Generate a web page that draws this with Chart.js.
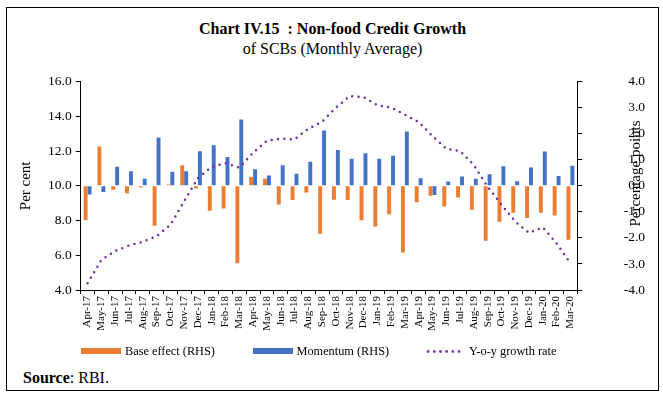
<!DOCTYPE html>
<html>
<head>
<meta charset="utf-8">
<script src="https://cdn.jsdelivr.net/npm/chart.js@4.4.1/dist/chart.umd.min.js"></script>
<style>
  body { margin: 0; background: #fff; }
  #frame { position: absolute; left: 6px; top: 7px; width: 653px; height: 384px; border: 1px solid #000; box-sizing: border-box; }
  #title { position: absolute; left: 0; top: 19px; width: 665px; text-align: center; font-family: 'Liberation Serif', serif; font-size: 16px; line-height: 20px; color: #000; }
  #source { position: absolute; left: 23px; top: 369px; font-family: 'Liberation Serif', serif; font-size: 16px; line-height: 18px; color: #000; }
  #grafico { position: absolute; left: 0; top: 0; }
  .sw { position: absolute; top: 348px; width: 40px; height: 6px; }
  .dots { position: absolute; top: 349.5px; width: 39px; height: 3px;
          background: radial-gradient(circle, #7030A0 1.15px, rgba(112,48,160,0) 1.5px) 0 0 / 6.2px 3px repeat-x; }
  .lt { position: absolute; top: 344px; font-family: 'Liberation Serif', serif; font-size: 12.3px; line-height: 14px; color: #000; white-space: nowrap; }
</style>
</head>
<body>
<div id="frame"></div>
<div id="title"><b>Chart IV.15&nbsp;&nbsp;: Non-food Credit Growth</b><br>of SCBs (Monthly Average)</div>
<canvas id="grafico" width="663" height="345"></canvas>
<div id="leyenda">
  <div class="sw" style="left:81px; background:#ED7D31"></div>
  <div class="lt" style="left:125px">Base effect (RHS)</div>
  <div class="sw" style="left:253px; background:#4472C4"></div>
  <div class="lt" style="left:296.5px">Momentum (RHS)</div>
  <div class="dots" style="left:425px"></div>
  <div class="lt" style="left:469px">Y-o-y growth rate</div>
</div>
<div id="source"><b>Source</b>: RBI.</div>
<script>
// meses
const meses = [
    "Apr-17", "May-17", "Jun-17", "Jul-17", "Aug-17", "Sep-17", "Oct-17", "Nov-17", "Dec-17",
    "Jan-18", "Feb-18", "Mar-18", "Apr-18", "May-18", "Jun-18", "Jul-18", "Aug-18", "Sep-18",
    "Oct-18", "Nov-18", "Dec-18", "Jan-19", "Feb-19", "Mar-19", "Apr-19", "May-19", "Jun-19",
    "Jul-19", "Aug-19", "Sep-19", "Oct-19", "Nov-19", "Dec-19", "Jan-20", "Feb-20", "Mar-20"
];

// eje derecho (puntos porcentuales)
const baseEffect = [
    -1.32, 1.51, -0.15, -0.28, -0.06, -1.53, 0.05, 0.79, -0.10,
    -0.96, -0.87, -2.97, 0.34, 0.27, -0.72, -0.54, -0.26, -1.84,
    -0.53, -0.54, -1.32, -1.56, -1.09, -2.56, -0.63, -0.38, -0.79,
    -0.45, -0.92, -2.11, -1.38, -1.03, -1.23, -1.03, -1.14, -2.07
];
const momentum = [
    -0.33, -0.24, 0.73, 0.56, 0.27, 1.86, 0.54, 0.56, 1.33,
    1.56, 1.11, 2.55, 0.64, 0.40, 0.79, 0.46, 0.93, 2.13,
    1.38, 1.04, 1.25, 1.04, 1.16, 2.09, 0.29, -0.35, 0.17,
    0.36, 0.27, 0.45, 0.75, 0.18, 0.70, 1.32, 0.38, 0.77
];

// eje izquierdo (por ciento)
const yoyGrowth = [
    4.39, 5.73, 6.25, 6.56, 6.77, 7.10, 7.75, 9.11, 10.45,
    11.09, 11.30, 11.05, 11.91, 12.60, 12.72, 12.68, 13.29, 13.70,
    14.50, 15.17, 15.12, 14.64, 14.52, 14.10, 13.68, 12.87, 12.14,
    12.00, 11.20, 9.95, 8.92, 7.94, 7.29, 7.61, 6.69, 5.54
];

const leftTicks = [4, 6, 8, 10, 12, 14, 16];
const rightTicks = [-4, -3, -2, -1, 0, 1, 2, 3, 4];

const leftTitle = "Per cent";
const rightTitle = "Percentage points";

const serif = "'Liberation Serif', serif";

// titulo del eje derecho, leido de abajo hacia arriba
const rightTitlePlugin = {
    id: "rightTitle",
    afterDraw(chart) {
        const ctx = chart.ctx;
        ctx.save();
        ctx.translate(636, 173.5);
        ctx.rotate(-Math.PI / 2);
        ctx.font = "15px " + serif;
        ctx.fillStyle = "#000";
        ctx.textAlign = "center";
        ctx.textBaseline = "middle";
        ctx.fillText(rightTitle, 0, 0);
        ctx.restore();
    }
};

const ctx = document.getElementById("grafico");

const chart = new Chart(ctx, {
    data: {
        labels: meses,
        datasets: [
            {
                type: "bar",
                label: "Base effect (RHS)",
                data: baseEffect,
                backgroundColor: "#ED7D31",
                yAxisID: "y1",
                categoryPercentage: 0.57,
                barPercentage: 1.0,
                order: 2
            },
            {
                type: "bar",
                label: "Momentum (RHS)",
                data: momentum,
                backgroundColor: "#4472C4",
                yAxisID: "y1",
                categoryPercentage: 0.57,
                barPercentage: 1.0,
                order: 2
            },
            {
                type: "line",
                label: "Y-o-y growth rate",
                data: yoyGrowth,
                borderColor: "#7030A0",
                borderWidth: 2.5,
                borderDash: [0, 6.4],
                borderCapStyle: "round",
                pointRadius: 0,
                tension: 0,
                fill: false,
                yAxisID: "y",
                order: 1
            }
        ]
    },
    options: {
        responsive: false,
        animation: false,
        layout: {
            padding: { left: 0, right: 18, top: 81.7, bottom: 0 }
        },
        plugins: {
            tooltip: { enabled: false },
            legend: { display: false }
        },
        scales: {
            x: {
                type: "category",
                offset: true,
                afterFit: s => { s.height = 55; },
                grid: {
                    display: true,
                    offset: true,
                    drawOnChartArea: false,
                    drawTicks: true,
                    tickLength: 4,
                    color: "#000"
                },
                border: { color: "#000", width: 1 },
                ticks: {
                    autoSkip: false,
                    maxRotation: 90,
                    minRotation: 90,
                    padding: 2,
                    color: "#000",
                    font: { family: serif, size: 11 }
                }
            },
            y: {
                position: "left",
                min: leftTicks[0],
                max: leftTicks[leftTicks.length - 1],
                afterFit: s => { s.width = 80.7; },
                afterBuildTicks: s => { s.ticks = leftTicks.map(v => ({ value: v })); },
                grid: {
                    drawOnChartArea: false,
                    drawTicks: true,
                    tickLength: 5,
                    color: "#000"
                },
                border: { color: "#000", width: 1 },
                ticks: {
                    padding: 4,
                    color: "#000",
                    font: { family: serif, size: 13.5 },
                    callback: v => Number(v).toFixed(1)
                },
                title: {
                    display: true,
                    text: leftTitle,
                    color: "#000",
                    font: { family: serif, size: 15 },
                    padding: { top: 16.8, bottom: 0 }
                }
            },
            y1: {
                position: "right",
                min: rightTicks[0],
                max: rightTicks[rightTicks.length - 1],
                afterFit: s => { s.width = 67.7; },
                afterBuildTicks: s => { s.ticks = rightTicks.map(v => ({ value: v })); },
                grid: {
                    drawOnChartArea: false,
                    drawTicks: true,
                    tickLength: 5,
                    color: "#000"
                },
                border: { color: "#000", width: 1 },
                ticks: {
                    padding: 4,
                    crossAlign: "far",
                    color: "#000",
                    font: { family: serif, size: 13.5 },
                    callback: v => Number(v).toFixed(1)
                }
            }
        }
    },
    plugins: [rightTitlePlugin]
});
</script>
</body>
</html>
